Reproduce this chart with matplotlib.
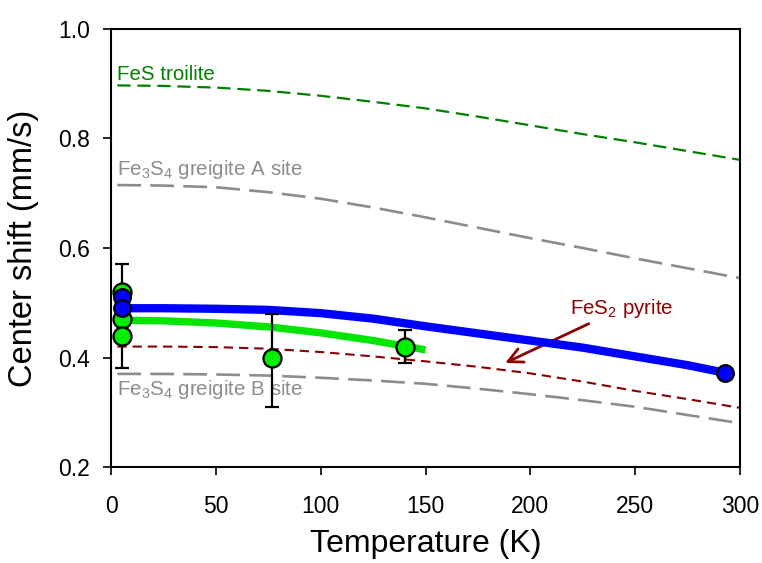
import matplotlib
matplotlib.use("Agg")
import matplotlib.pyplot as plt

plt.rcParams['font.family'] = ['Liberation Sans', 'DejaVu Sans']
plt.rcParams['mathtext.fontset'] = 'custom'
plt.rcParams['mathtext.rm'] = 'Liberation Sans'
plt.rcParams['mathtext.it'] = 'Liberation Sans:italic'
plt.rcParams['mathtext.bf'] = 'Liberation Sans:bold'

# Reference curves
T_ref = [3, 25, 50, 75, 100, 125, 150, 175, 200, 225, 250, 275, 300]
troilite = [0.897, 0.896, 0.893, 0.887, 0.878, 0.867, 0.855, 0.840, 0.824, 0.808, 0.793, 0.777, 0.761]
greig_A = [0.715, 0.714, 0.711, 0.702, 0.690, 0.674, 0.656, 0.637, 0.618, 0.600, 0.581, 0.563, 0.545]
pyrite = [0.420, 0.420, 0.419, 0.416, 0.410, 0.402, 0.393, 0.383, 0.371, 0.356, 0.339, 0.324, 0.308]
greig_B = [0.370, 0.370, 0.369, 0.367, 0.363, 0.358, 0.352, 0.343, 0.333, 0.322, 0.310, 0.295, 0.280]

# Fitted thick curves
T_blue = [5, 25, 50, 75, 100, 125, 150, 175, 200, 225, 250, 275, 293]
cs_blue = [0.490, 0.490, 0.489, 0.487, 0.481, 0.471, 0.457, 0.444, 0.431, 0.418, 0.402, 0.386, 0.372]
T_green = [5, 25, 50, 75, 100, 125, 150]
cs_green = [0.468, 0.467, 0.463, 0.456, 0.445, 0.431, 0.414]

# Data points
T_green_pts = [5, 5, 5, 77, 140]
cs_green_pts = [0.52, 0.47, 0.44, 0.40, 0.42]
T_err = [5, 77, 140]
cs_err = [0.475, 0.395, 0.42]
err_lo = [0.38, 0.31, 0.39]
err_hi = [0.57, 0.48, 0.45]
T_blue_pts = [5, 5, 293]
cs_blue_pts = [0.51, 0.49, 0.372]

fig = plt.figure(figsize=(7.62, 5.63), dpi=100)
ax = fig.add_axes([0.1457, 0.1705, 0.8254, 0.778])

ax.plot(T_ref, troilite, color='#008000', lw=1.6, dashes=(6, 3))
ax.plot(T_ref, greig_A, color='#8c8c8c', lw=1.9, dashes=(9, 3.5))
ax.plot(T_ref, pyrite, color='#8b0000', lw=1.5, dashes=(4.5, 2.8))
ax.plot(T_ref, greig_B, color='#8c8c8c', lw=1.9, dashes=(9, 3.5))

ax.plot(T_green, cs_green, color='#00e600', lw=5.3, solid_capstyle='butt', zorder=3)
ax.plot(T_blue, cs_blue, color='#0000ff', lw=6.0, solid_capstyle='butt', zorder=4)

yerr = [[c - lo for c, lo in zip(cs_err, err_lo)], [hi - c for c, hi in zip(cs_err, err_hi)]]
ax.errorbar(T_err, cs_err, yerr=yerr, fmt='none', ecolor='black', elinewidth=1.6,
            capsize=5, capthick=1.6, zorder=5)
ax.plot(T_green_pts, cs_green_pts, 'o', ms=13, mfc='#00ee00', mec='black', mew=1.6, zorder=6)
ax.plot(T_blue_pts, cs_blue_pts, 'o', ms=12, mfc='#0000ff', mec='black', mew=1.6, zorder=7)

ax.text(3, 0.907, 'FeS troilite', color='#008000', fontsize=14.8, va='baseline', ha='left')
ax.text(3, 0.733, r'Fe$_3$S$_4$ greigite A site', color='#8c8c8c', fontsize=14.8, va='baseline', ha='left')
ax.text(3, 0.332, r'Fe$_3$S$_4$ greigite B site', color='#8c8c8c', fontsize=14.8, va='baseline', ha='left')
ax.annotate(r'FeS$_2$ pyrite', xy=(188, 0.390), xytext=(219, 0.490), color='#8b0000',
            fontsize=14.8, ha='left', va='center',
            arrowprops=dict(arrowstyle='->', color='#8b0000', lw=2.0, mutation_scale=26,
                            shrinkA=2, shrinkB=0))

ax.set_xlim(0, 300)
ax.set_ylim(0.2, 1.0)
ax.set_xticks([0, 50, 100, 150, 200, 250, 300])
ax.set_yticks([0.2, 0.4, 0.6, 0.8, 1.0])
ax.set_yticklabels(['0.2', '0.4', '0.6', '0.8', '1.0'])
ax.tick_params(direction='out', length=6, width=1.2, labelsize=16.5)
ax.tick_params(axis='x', pad=14)
ax.tick_params(axis='y', pad=9)
for s in ax.spines.values():
    s.set_linewidth(1.5)
ax.set_xlabel('Temperature (K)', fontsize=23, labelpad=8)
ax.set_ylabel('Center shift (mm/s)', fontsize=23.5, labelpad=14)

fig.savefig('out.png', dpi=100)
